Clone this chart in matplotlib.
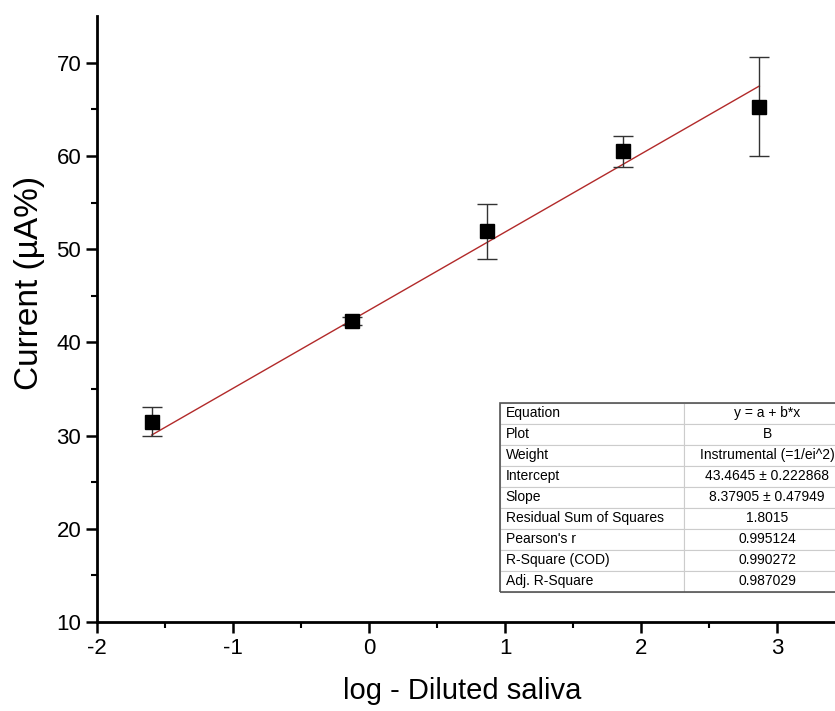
import numpy as np
import matplotlib
matplotlib.use('Agg')
import matplotlib.pyplot as plt
from matplotlib.patches import Rectangle

# data
log_dil = [-1.60, -0.13, 0.87, 1.87, 2.87]
current = [31.5, 42.3, 51.9, 60.5, 65.3]
current_err = [1.55, 0.4, 2.9, 1.7, 5.3]

# linear fit result (from the table)
intercept = 43.4645
slope = 8.37905

table_keys = ['Equation', 'Plot', 'Weight', 'Intercept', 'Slope',
              'Residual Sum of Squares', "Pearson's r", 'R-Square (COD)',
              'Adj. R-Square']
table_vals = ['y = a + b*x', 'B', 'Instrumental (=1/ei^2)',
              '43.4645 \u00b1 0.222868', '8.37905 \u00b1 0.47949', '1.8015',
              '0.995124', '0.990272', '0.987029']

plt.rcParams['font.family'] = ['Liberation Sans', 'DejaVu Sans']
plt.rcParams['axes.unicode_minus'] = False

fig = plt.figure(figsize=(8.35, 7.11), dpi=100)
ax = fig.add_axes([0.1165, 0.1252, 0.8955, 0.852])

xfit = np.array([min(log_dil), max(log_dil)])
ax.plot(xfit, intercept + slope * xfit, color='#b22a2a', lw=1.0, zorder=2)
ax.errorbar(log_dil, current, yerr=current_err, fmt='s', color='black',
            ms=10, ecolor='#333333', elinewidth=1.0, capsize=7, capthick=1.0,
            zorder=3)

ax.set_xlim(-2, 3.5)
ax.set_ylim(10, 75)
ax.set_xticks([-2, -1, 0, 1, 2, 3])
ax.set_xticks(np.arange(-1.5, 3.6, 1), minor=True)
ax.set_yticks([10, 20, 30, 40, 50, 60, 70])
ax.set_yticks(np.arange(15, 71, 10), minor=True)

for s in ['top', 'right']:
    ax.spines[s].set_visible(False)
for s in ['left', 'bottom']:
    ax.spines[s].set_linewidth(2)

ax.tick_params(which='major', direction='out', length=8, width=1.8, labelsize=16)
ax.tick_params(which='minor', direction='out', length=4, width=1.5)

ax.set_xlabel('log - Diluted saliva', fontsize=21)
ax.xaxis.set_label_coords(0.488, -0.09)
ax.set_ylabel('Current (\u00b5A%)', fontsize=24)
ax.yaxis.set_label_coords(-0.07, 0.56)

# fit statistics table
tab = ax.table(cellText=[[k, v] for k, v in zip(table_keys, table_vals)],
               cellLoc='center', colWidths=[0.526, 0.474],
               bbox=[0.5386, 0.0495, 0.468, 0.3125])
tab.auto_set_font_size(False)
tab.set_fontsize(10)
for (r, c), cell in tab.get_celld().items():
    cell.set_edgecolor('#cccccc')
    cell.set_linewidth(0.8)
    if c == 0:
        cell.set_text_props(ha='left')
        cell.PAD = 0.03
ax.add_patch(Rectangle((0.5386, 0.0495), 0.468, 0.3125, transform=ax.transAxes,
                       fill=False, edgecolor='#555555', lw=1.2, zorder=5,
                       clip_on=False))

fig.savefig('out.png', dpi=100)
